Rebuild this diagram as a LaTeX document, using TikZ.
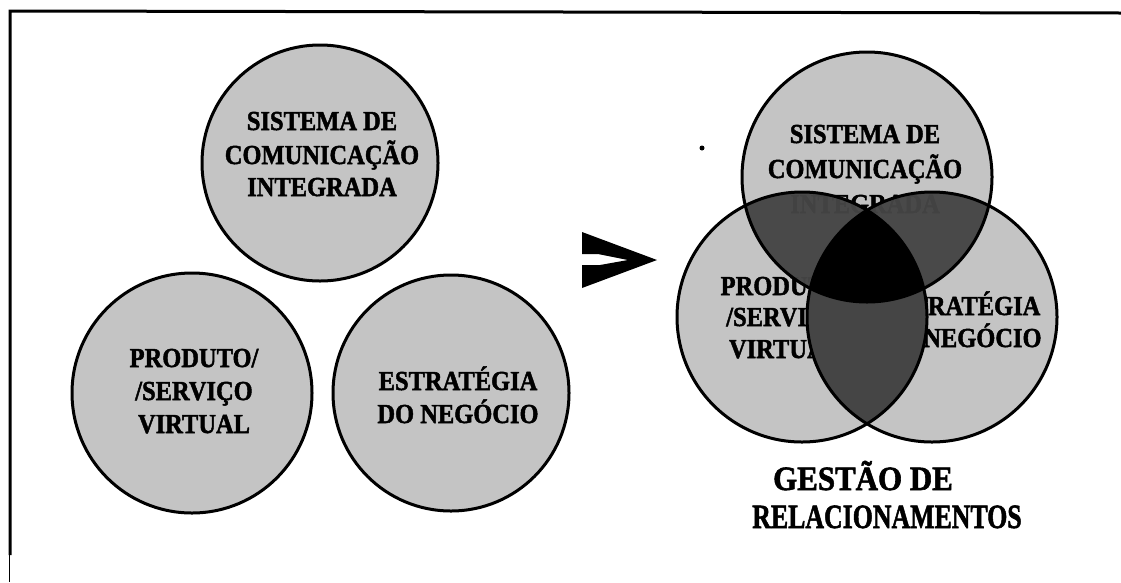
\documentclass[tikz,border=0pt]{standalone}
\usepackage{fontspec}
\setmainfont[BoldFeatures={FakeBold=1.8}]{Liberation Serif}
\usepackage{graphicx}
\definecolor{lg}{gray}{0.77}
\definecolor{dg}{gray}{0.27}
\newcommand{\sqz}[2]{\scalebox{#1}[1]{#2}}
\begin{document}
\begin{tikzpicture}[x=1pt,y=-1pt,
  lbl/.style={anchor=base,inner sep=0pt,font=\fontsize{27.5}{33}\selectfont\bfseries},
  big/.style={anchor=base,inner sep=0pt,font=\fontsize{34}{40}\selectfont\bfseries},
  ring/.style={line width=3pt,draw=black}]
\useasboundingbox (0,0) rectangle (1121,582);
% frame
\draw[line width=3pt] (10,555) -- (10,11) -- (1121,13);
\draw[line width=1pt] (9,555) -- (9,582);
% left circles
\coordinate (A) at (320,163);
\coordinate (B) at (192,393);
\coordinate (C) at (451,393);
\filldraw[ring,fill=lg] (A) circle[radius=118pt];
\filldraw[ring,fill=lg] (B) circle[radius=120pt];
\filldraw[ring,fill=lg] (C) circle[radius=118pt];
\node[lbl] (a1) at (322,130) {\sqz{0.89}{SISTEMA DE}};
\node[lbl] (a2) at (322,164) {\sqz{0.89}{COMUNICAÇÃO}};
\node[lbl] (a3) at (322,196) {\sqz{0.89}{INTEGRADA}};
\node[lbl] (b1) at (194,367) {\sqz{0.89}{PRODUTO/}};
\node[lbl] (b2) at (194,400) {\sqz{0.89}{/SERVIÇO}};
\node[lbl] (b3) at (194,433) {\sqz{0.89}{VIRTUAL}};
\node[lbl] (c1) at (458,390) {\sqz{0.89}{ESTRATÉGIA}};
\node[lbl] (c2) at (458,423) {\sqz{0.89}{DO NEGÓCIO}};
% arrow
\fill (582,232) -- (657,260) -- (582,288) -- (582,265) -- (600,265) -- (628,260) -- (598,254) -- (582,254) -- cycle;
% dot
\fill (702,148) circle[radius=2.5pt];
% venn
\coordinate (T) at (867,177);
\coordinate (L) at (802,317);
\coordinate (R) at (932,317);
\fill[lg] (T) circle[radius=125pt];
\fill[lg] (L) circle[radius=125pt];
\fill[lg] (R) circle[radius=125pt];
\node[lbl] (t1) at (865,143) {\sqz{0.89}{SISTEMA DE}};
\node[lbl] (t2) at (865,178) {\sqz{0.89}{COMUNICAÇÃO}};
\node[lbl] (t3) at (865,213) {\sqz{0.89}{INTEGRADA}};
\node[lbl] (l1) at (785,295) {\sqz{0.89}{PRODUTO/}};
\node[lbl] (l2) at (785,326) {\sqz{0.89}{/SERVIÇO}};
\node[lbl] (l3) at (785,358) {\sqz{0.89}{VIRTUAL}};
\node[lbl] (r1) at (961,315) {\sqz{0.89}{ESTRATÉGIA}};
\node[lbl] (r2) at (961,347) {\sqz{0.89}{DO NEGÓCIO}};
\begin{scope}
  \clip (T) circle[radius=125pt];
  \fill[dg,fill opacity=0.96] (L) circle[radius=125pt];
  \fill[dg,fill opacity=0.96] (R) circle[radius=125pt];
\end{scope}
\begin{scope}
  \clip (L) circle[radius=125pt];
  \fill[dg] (R) circle[radius=125pt];
\end{scope}
\begin{scope}
  \clip (T) circle[radius=125pt];
  \clip (L) circle[radius=125pt];
  \fill[black] (R) circle[radius=125pt];
\end{scope}
\draw[ring] (T) circle[radius=125pt];
\draw[ring] (L) circle[radius=125pt];
\draw[ring] (R) circle[radius=125pt];
% caption
\node[big] (g1) at (863,490) {\sqz{0.91}{GESTÃO DE}};
\node[big] (g2) at (887,528) {\sqz{0.76}{RELACIONAMENTOS}};
\end{tikzpicture}
\end{document}
